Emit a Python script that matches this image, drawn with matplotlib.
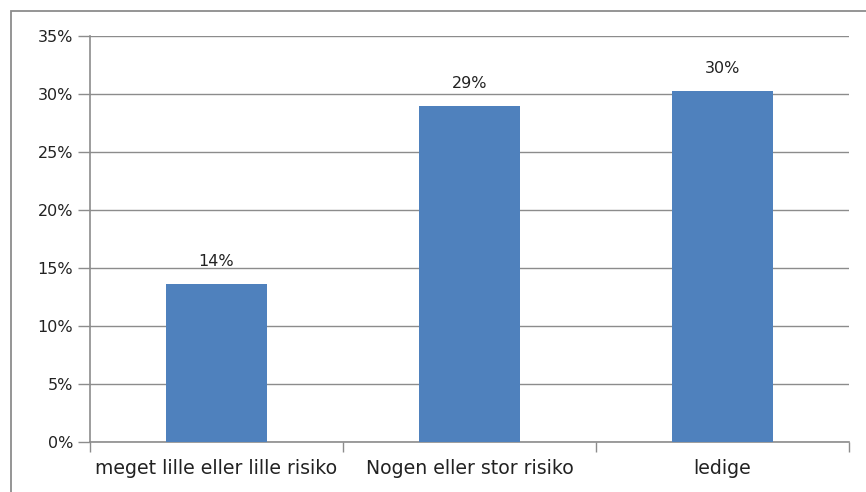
import matplotlib
matplotlib.use("Agg")
import matplotlib.pyplot as plt
from matplotlib.patches import Rectangle
from matplotlib.ticker import FuncFormatter, MultipleLocator

categories = ["meget lille eller lille risiko", "Nogen eller stor risiko", "ledige"]
values = [13.65, 28.95, 30.25]
labels = ["14%", "29%", "30%"]

plt.rcParams['font.family'] = ['DejaVu Sans']

fig = plt.figure(figsize=(8.66, 4.92), dpi=100)
# outer chart border (runs off right and bottom)
fig.patches.append(Rectangle((11/866, -0.1), 1.2, (492-11)/492 + 0.1,
                             transform=fig.transFigure, fill=False,
                             edgecolor="#8c8c8c", linewidth=1.3))

ax = fig.add_axes([90/866, (492-442)/492, (849-90)/866, (442-36)/492])
x = list(range(len(categories)))
ax.bar(x, values, width=0.4, color="#4f81bd", zorder=3)
for xi, v, lab in zip(x, values, labels):
    ax.text(xi, v + 1.3, lab, ha="center", va="bottom", fontsize=11.5, color="#222222", zorder=4)

ax.set_xlim(-0.5, 2.5)
ax.set_ylim(0, 35)
ax.yaxis.set_major_locator(MultipleLocator(5))
ax.yaxis.set_major_formatter(FuncFormatter(lambda v, p: f"{v:.0f}%"))
ax.yaxis.grid(True, color="#8c8c8c", linewidth=1.0, zorder=0)
ax.set_xticks(x)
ax.set_xticklabels(categories, fontsize=13.6, color="#222222", family="DejaVu Sans Condensed")
ax.set_xticks([-0.5, 0.5, 1.5, 2.5], minor=True)
ax.tick_params(axis="x", which="major", length=0, pad=12)
ax.tick_params(axis="x", which="minor", length=7, color="#8c8c8c", width=1)
ax.tick_params(axis="y", length=9, color="#8c8c8c", width=1, labelsize=11.5, labelcolor="#222222", pad=3)
for s in ["top", "right"]:
    ax.spines[s].set_visible(False)
for s in ["left", "bottom"]:
    ax.spines[s].set_color("#8c8c8c")
    ax.spines[s].set_linewidth(1.2)

fig.savefig("out.png", dpi=100)
